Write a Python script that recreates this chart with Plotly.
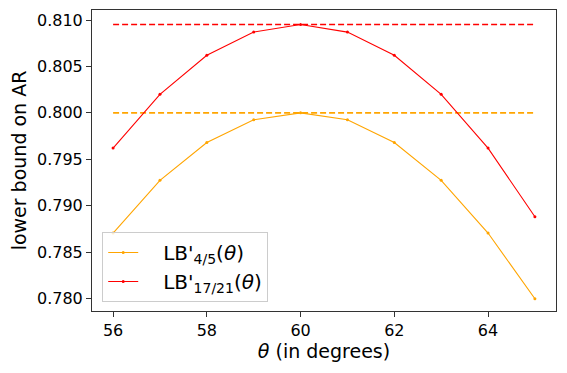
import plotly.graph_objects as go

theta = [56, 57, 58, 59, 60, 61, 62, 63, 64, 65]
lb_45 = [0.78705, 0.79273, 0.79680, 0.79925, 0.80000, 0.79925, 0.79680, 0.79273, 0.78705, 0.77997]
lb_1721 = [0.79620, 0.80200, 0.80620, 0.80870, 0.80952, 0.80870, 0.80620, 0.80200, 0.79620, 0.78880]
const_45 = 0.8
const_1721 = 17 / 21

yticks = [0.780, 0.785, 0.790, 0.795, 0.800, 0.805, 0.810]
xticks = [56, 58, 60, 62, 64]

orange = "#ffa500"
red = "#ff0000"

fig = go.Figure()
fig.add_trace(go.Scatter(x=[theta[0], theta[-1]], y=[const_45, const_45], mode="lines",
                         line=dict(color=orange, width=1.6, dash="6px,3px"), showlegend=False))
fig.add_trace(go.Scatter(x=[theta[0], theta[-1]], y=[const_1721, const_1721], mode="lines",
                         line=dict(color=red, width=1.6, dash="6px,3px"), showlegend=False))
fig.add_trace(go.Scatter(x=theta, y=lb_45, mode="lines+markers", name="\u2003LB'<sub>4/5</sub>(<i>θ</i>)",
                         line=dict(color=orange, width=1.1), marker=dict(size=3, color=orange)))
fig.add_trace(go.Scatter(x=theta, y=lb_1721, mode="lines+markers", name="\u2003LB'<sub>17/21</sub>(<i>θ</i>)",
                         line=dict(color=red, width=1.1), marker=dict(size=3, color=red)))

axis_common = dict(showgrid=False, zeroline=False, showline=True, linecolor="#333333", linewidth=1,
                   mirror=True, ticks="outside", ticklen=5, tickcolor="#333333", automargin=False,
                   tickfont=dict(family="DejaVu Sans", size=16, color="black"))

# page body has an 8px default margin, so the figure is sized to fit the 567x373 window
fig.update_layout(
    width=559, height=365,
    margin=dict(l=84, r=11, t=2, b=62),
    paper_bgcolor="white", plot_bgcolor="white",
    font=dict(family="DejaVu Sans", color="black"),
    xaxis=dict(range=[55.55, 65.45], tickvals=xticks, ticktext=[str(t) for t in xticks],
               title=dict(text="<i>θ</i> (in degrees)", font=dict(size=19), standoff=4), **axis_common),
    yaxis=dict(range=[0.77865, 0.81108], tickvals=yticks, ticktext=[f"{t:.3f}" for t in yticks],
               title=dict(text="lower bound on AR", font=dict(size=19), standoff=6), **axis_common),
    legend=dict(x=0.022, y=0.03, xanchor="left", yanchor="bottom", bgcolor="rgba(255,255,255,0.8)",
                bordercolor="#cccccc", borderwidth=1, font=dict(size=20, family="DejaVu Sans")),
)

fig.write_html("out.html")
